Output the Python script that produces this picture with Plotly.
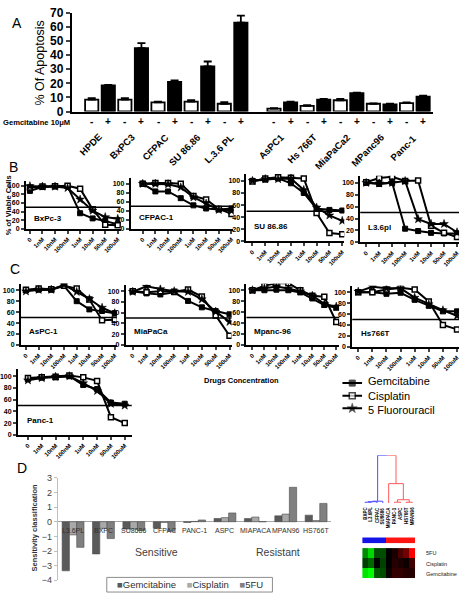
import plotly.graph_objects as go

W, H = 467, 601
FONT = "Liberation Sans, Arial, sans-serif"

# ---------------- Panel A data ----------------
cell_lines_a = ["HPDE", "BxPC3", "CFPAC", "SU 86.86", "L.3.6 PL",
                "AsPC1", "Hs 766T", "MiaPaCa2", "MPanc96", "Panc-1"]
apop_minus = [8.5, 8.5, 6.5, 7.0, 5.5, 2.0, 4.0, 8.0, 5.5, 6.0]
apop_plus = [18.5, 45.0, 21.0, 32.0, 63.0, 6.5, 8.5, 13.0, 5.0, 10.5]
err_minus = [1.0, 1.0, 0.5, 1.0, 1.2, 0.3, 0.5, 1.0, 0.3, 0.5]
err_plus = [0.3, 3.5, 1.0, 3.5, 5.0, 0.5, 0.5, 0.3, 0.5, 0.8]
apop_ticks = [0, 10, 20, 30, 40, 50, 60, 70]

# ---------------- Panels B / C data ----------------
conc_labels = ["0", "1nM", "10nM", "100nM", "1uM", "10uM", "50uM", "100uM"]
viab_ticks = [0, 20, 40, 60, 80, 100]
panel_names = ["BxPc-3", "CFPAC-1", "SU 86.86", "L3.6pl",
               "AsPC-1", "MiaPaCa", "Mpanc-96", "Hs766T", "Panc-1"]
gem_vals = [
    [88, 97, 99, 99, 36, 24, 18, 10],
    [100, 83, 83, 68, 52, 45, 43, 45],
    [100, 102, 104, 96, 80, 54, 52, 51],
    [100, 98, 100, 23, 19, 16, 15, 15],
    [100, 101, 101, 108, 80, 65, 62, 58],
    [100, 96, 94, 98, 82, 70, 63, 57],
    [100, 100, 101, 100, 96, 85, 73, 68],
    [100, 100, 97, 99, 86, 75, 65, 65],
    [95, 98, 98, 100, 85, 78, 55, 53],
]
cis_vals = [
    [96, 98, 99, 100, 93, 45, 9, 8],
    [100, 102, 102, 100, 73, 65, 44, 33],
    [99, 104, 106, 105, 104, 47, 14, 12],
    [101, 108, 110, 103, 104, 28, 16, 9],
    [101, 103, 102, 108, 103, 83, 45, 46],
    [100, 98, 100, 99, 103, 90, 55, 17],
    [100, 108, 113, 113, 100, 90, 88, 42],
    [100, 100, 105, 108, 105, 83, 40, 32],
    [97, 98, 99, 101, 98, 92, 30, 20],
]
fu_vals = [
    [99, 98, 98, 95, 68, 42, 27, 23],
    [100, 100, 99, 92, 70, 56, 42, 40],
    [100, 103, 103, 104, 85, 56, 43, 34],
    [100, 99, 100, 103, 39, 31, 31, 17],
    [98, 101, 101, 110, 97, 84, 68, 58],
    [99, 109, 104, 100, 99, 85, 62, 43],
    [100, 104, 107, 103, 98, 90, 75, 70],
    [101, 110, 107, 107, 90, 78, 67, 57],
    [93, 97, 99, 100, 88, 75, 53, 50],
]
ic_line = 50
drug_names = ["Gemcitabine", "Cisplatin", "5 Fluorouracil"]

# ---------------- Panel D data ----------------
d_categories = ["L3.6PL", "BXPC", "SU8686", "CFPAC", "PANC-1", "ASPC",
                "MIAPACA", "MPAN96", "HS766T"]
d_gem = [-3.35, -2.2, -0.5, -0.45, -0.05, 0.22, 0.22, 0.4, 0.45]
d_cis = [-0.9, -0.45, -0.5, -0.05, 0.02, 0.28, 0.32, 0.52, 0.08]
d_fu = [-1.75, -1.15, -0.6, -0.65, 0.12, 0.6, 0.0, 2.35, 1.25]
d_series = ["Gemcitabine", "Cisplatin", "5FU"]
d_ticks = [-4, -3, -2, -1, 0, 1, 2, 3]

# ---------------- Heatmap / dendrogram data ----------------
hm_cols = ["BXPC", "L3.6PL", "CFPAC", "SU8686", "MIAPACA", "PANC-1",
           "ASPC", "HS766T", "MPAN96"]
hm_rows = ["5FU", "Cisplatin", "Gemcitabine"]
hm_vals = [
    [-0.55, -0.85, -0.3, -0.3, 0.0, 0.1, 0.3, 0.45, 1.0],
    [-0.25, -0.4, 0.0, -0.25, 0.0, 0.15, 0.1, 0.05, 0.25],
    [-0.9, -1.0, -0.35, -0.3, 0.05, 0.2, 0.2, 0.15, 0.15],
]
hm_cluster = [0, 0, 0, 0, 1, 1, 1, 1, 1]
# linkage: (child a, child b, height); new ids start at len(hm_cols)
linkage = [(0, 1, 1.0), (9, 2, 1.5), (10, 3, 2.0), (5, 6, 1.0), (7, 8, 1.0),
           (12, 13, 3.5), (4, 14, 20.0), (11, 15, 49.0)]


def dx(a, b):
    return [a / W, b / W]


def dy(top, bottom):
    return [1 - bottom / H, 1 - top / H]


def px(x):
    return x / W


def py(y):
    return 1 - y / H


annotations = []
shapes = []


def ann(text, x, y, xref="paper", yref="paper", size=10, color="black",
        xanchor="center", yanchor="middle", angle=0):
    annotations.append(dict(text=text, x=x, y=y, xref=xref, yref=yref,
                            xanchor=xanchor, yanchor=yanchor, textangle=angle,
                            showarrow=False, font=dict(size=size, color=color,
                                                       family=FONT)))


fig = go.Figure()
layout = dict(width=W, height=H, margin=dict(l=0, r=0, t=0, b=0),
              autosize=False, paper_bgcolor="white",
              plot_bgcolor="rgba(0,0,0,0)",
              font=dict(family=FONT, color="black"), barmode="group",
              bargap=0.28, bargroupgap=0.0, showlegend=False)

# ================= Panel A =================
gap_pos = [i + (0.5 if i >= 5 else 0.0) for i in range(len(cell_lines_a))]
xs, ys, cols, ea = [], [], [], []
for i, p in enumerate(gap_pos):
    xs += [p - 0.25, p + 0.25]
    ys += [apop_minus[i], apop_plus[i]]
    cols += ["white", "black"]
    ea += [err_minus[i], err_plus[i]]
fig.add_trace(go.Bar(x=xs, y=ys, width=0.4, xaxis="x", yaxis="y",
                     marker=dict(color=cols, line=dict(color="black", width=1.8)),
                     error_y=dict(type="data", symmetric=False, array=ea,
                                  arrayminus=[0] * len(ea), color="black",
                                  thickness=1.8, width=4)))
layout["xaxis"] = dict(domain=dx(72, 434), anchor="y", range=[-0.85, 10.05],
                       showticklabels=False, ticks="", showline=True,
                       linecolor="black", linewidth=2, showgrid=False, zeroline=False)
layout["yaxis"] = dict(domain=dy(6, 107), anchor="x", range=[0, 70],
                       tickmode="array", tickvals=apop_ticks,
                       ticktext=["<b>%d</b>" % v for v in apop_ticks],
                       ticks="outside", ticklen=4,
                       tickwidth=2, showline=True, linecolor="black", linewidth=2,
                       showgrid=False, zeroline=False, showticklabels=True,
                       tickfont=dict(size=12, family=FONT, color="black"))
ann("% Of Apoptosis", px(40), py(57), size=12.5, angle=-90)
ann("<b>Gemcitabine 10μM</b>", px(1), py(118.5), size=7.6, xanchor="left")
for i, p in enumerate(gap_pos):
    ann("<b>-</b>", p - 0.25, py(117), xref="x", size=10)
    ann("<b>+</b>", p + 0.25, py(117), xref="x", size=10)
    ann("<b>%s</b>" % cell_lines_a[i], p + 0.2, py(125), xref="x", size=9.5,
        xanchor="right", yanchor="top", angle=-45)
ann("A", px(17), py(16), size=14)

# ================= Panels B / C =================
# (axis_x, first point x, last point x, axis end x, y of 100, y of 0)
line_geo = [
    (26, 30, 118, 121, 183, 227),
    (131, 143, 232, 234, 181, 227),
    (247, 253, 343, 345, 178, 240),
    (361, 367, 458, 460, 180, 241),
    (21, 26, 115, 117, 290, 346),
    (126, 133, 230, 232, 291, 346),
    (247, 253, 337, 340, 290, 346),
    (353, 359, 458, 460, 292, 348),
    (18, 28, 125, 132, 378, 438),
]
ymax = 112
markers = [dict(symbol="square", color="black", size=5, line=dict(color="black", width=1)),
           dict(symbol="square", color="white", size=5, line=dict(color="black", width=1.5)),
           dict(symbol="star", color="black", size=6.5, line=dict(color="black", width=0.5))]
for k, (ax, p0, p7, xe, y100, y0) in enumerate(line_geo):
    n = k + 2
    unit = (p7 - p0) / 7.0
    xr = [(ax - p0) / unit, 7 + (xe - p7) / unit]
    top = y0 - ymax * (y0 - y100) / 100.0
    layout["xaxis%d" % n] = dict(domain=dx(ax, xe), anchor="y%d" % n, range=xr,
                                 tickvals=list(range(8)), ticktext=conc_labels,
                                 tickangle=-45, ticks="outside", ticklen=3,
                                 tickwidth=1.5, showline=True, linecolor="black",
                                 linewidth=2, showgrid=False, zeroline=False,
                                 tickfont=dict(size=6, weight="bold"))
    layout["yaxis%d" % n] = dict(domain=dy(top, y0), anchor="x%d" % n,
                                 range=[0, ymax], tickvals=viab_ticks,
                                 ticks="outside", ticklen=3, tickwidth=1.5,
                                 showline=True, linecolor="black", linewidth=2,
                                 showgrid=False, zeroline=False,
                                 tickfont=dict(size=7, weight="bold"))
    for d, vals in enumerate((gem_vals, cis_vals, fu_vals)):
        fig.add_trace(go.Scatter(x=list(range(8)), y=vals[k], mode="lines+markers",
                                 xaxis="x%d" % n, yaxis="y%d" % n,
                                 line=dict(color="black", width=2),
                                 marker=markers[d], name=drug_names[d]))
    shapes.append(dict(type="line", xref="x%d domain" % n, yref="y%d" % n,
                       x0=0, x1=1, y0=ic_line, y1=ic_line,
                       line=dict(color="black", width=1.5)))
    ann("<b>%s</b>" % panel_names[k], 0.06, 0.22, xref="x%d domain" % n,
        yref="y%d domain" % n, size=8, xanchor="left")

ann("<b>% of Viable Cells</b>", px(8), py(203), size=7.5, angle=-90)
ann("<b>Drugs Concentration</b>", px(242), py(382), size=7.5)
ann("B", px(14), py(164), size=14)
ann("C", px(15), py(268), size=14)

# manual legend for the dose-response lines
layout["xaxis15"] = dict(domain=dx(343, 363), anchor="y15", range=[0, 2], visible=False)
layout["yaxis15"] = dict(domain=dy(376, 420), anchor="x15", range=[2.7, -0.7],
                         visible=False)
for d in range(3):
    fig.add_trace(go.Scatter(x=[0, 1, 2], y=[d, d, d], mode="lines+markers",
                             xaxis="x15", yaxis="y15",
                             line=dict(color="black", width=2),
                             marker=dict(markers[d], size=[0, markers[d]["size"] + 1, 0])))
    ann(drug_names[d], px(367), py(383 + 15 * d), size=11, xanchor="left")

# ================= Panel D =================
d_colors = ["#5a5a5a", "#a9a9a9", "#808080"]
for s, vals in enumerate((d_gem, d_cis, d_fu)):
    fig.add_trace(go.Bar(x=d_categories, y=vals, xaxis="x11", yaxis="y11",
                         name=d_series[s],
                         marker=dict(color=d_colors[s],
                                     line=dict(color="#4d4d4d", width=0.6))))
layout["xaxis11"] = dict(domain=dx(58, 332), anchor="y11", showticklabels=False,
                         ticks="", showline=False, showgrid=False, zeroline=False)
layout["yaxis11"] = dict(domain=dy(482, 587), anchor="x11", range=[-4, 3],
                         tickvals=d_ticks, ticks="outside", ticklen=3,
                         tickcolor="#bfbfbf", showline=True, linecolor="#bfbfbf",
                         linewidth=1, showgrid=False, zeroline=True,
                         zerolinecolor="#a6a6a6", zerolinewidth=1,
                         tickfont=dict(size=9, color="#404040"))
for c in d_categories:
    ann(c, c, -0.58, xref="x11", yref="y11", size=7, color="#303030")
ann("<b>Sensitivity classification</b>", px(35), py(533), size=7.5,
    color="#303030", angle=-90)
ann("Sensitive", px(157), py(558), size=10.5, color="#404040")
ann("Resistant", px(279), py(558), size=10.5, color="#404040")
ann("D", px(22), py(472), size=14)
legend_txt = "&nbsp;&nbsp;&nbsp;&nbsp;".join(
    '<span style="color:%s">■</span>%s' % (d_colors[s], d_series[s])
    for s in range(3))
shapes.append(dict(type="rect", xref="paper", yref="paper", x0=px(107), x1=px(273),
                   y0=py(599), y1=py(584), line=dict(color="#8c8c8c", width=1)))
ann(legend_txt, px(190), py(591.5), size=9.5, color="#303030")

# ================= Dendrogram =================
nleaf = len(hm_cols)
pos = {i: float(i) for i in range(nleaf)}
hgt = {i: 0.0 for i in range(nleaf)}
clus = {i: hm_cluster[i] for i in range(nleaf)}
seg = {0: ([], []), 1: ([], [])}
for m, (a, b, h) in enumerate(linkage):
    nid = nleaf + m
    mid = (pos[a] + pos[b]) / 2
    if clus[a] == clus[b]:
        sx, sy = seg[clus[a]]
        sx += [pos[a], pos[a], pos[b], pos[b], None]
        sy += [hgt[a], h, h, hgt[b], None]
        clus[nid] = clus[a]
    else:
        for child in (a, b):
            sx, sy = seg[clus[child]]
            sx += [pos[child], pos[child], mid, None]
            sy += [hgt[child], h, h, None]
        clus[nid] = -1
    pos[nid] = mid
    hgt[nid] = h
dcolors = {0: "#4d4dff", 1: "#ff5a5a"}
for c in (0, 1):
    fig.add_trace(go.Scatter(x=seg[c][0], y=seg[c][1], mode="lines",
                             xaxis="x12", yaxis="y12",
                             line=dict(color=dcolors[c], width=1)))
layout["xaxis12"] = dict(domain=dx(363, 416), anchor="y12", range=[-0.5, nleaf - 0.5],
                         visible=False)
layout["yaxis12"] = dict(domain=dy(459, 508), anchor="x12", range=[0, 49],
                         visible=False)
for i, c in enumerate(hm_cols):
    ann("<b>%s</b>" % c, i, py(510), xref="x12", size=4.5, yanchor="top", angle=-90)

# ================= Cluster bar & heatmap =================
fig.add_trace(go.Heatmap(z=[hm_cluster], x=list(range(nleaf)), xaxis="x13",
                         yaxis="y13", colorscale=[[0, "#1414e6"], [1, "#ff1414"]],
                         showscale=False, zmin=0, zmax=1))
layout["xaxis13"] = dict(domain=dx(363, 416), anchor="y13", range=[-0.5, nleaf - 0.5],
                         visible=False)
layout["yaxis13"] = dict(domain=dy(543, 549), anchor="x13", visible=False)
fig.add_trace(go.Heatmap(z=hm_vals[::-1], x=list(range(nleaf)), y=hm_rows[::-1],
                         xaxis="x14", yaxis="y14",
                         colorscale=[[0, "#00ff00"], [0.5, "#000000"], [1, "#ff0000"]],
                         zmin=-1, zmax=1, showscale=False))
layout["xaxis14"] = dict(domain=dx(363, 416), anchor="y14", range=[-0.5, nleaf - 0.5],
                         visible=False)
layout["yaxis14"] = dict(domain=dy(554, 585), anchor="x14", visible=False)
for r, name in enumerate(hm_rows):
    ann(name, px(425), py(559 + 11 * r), size=5.5, color="#202020", xanchor="left")

layout["annotations"] = annotations
layout["shapes"] = shapes
fig.update_layout(**layout)
fig.write_html("out.html", config={"displayModeBar": False},
               post_script="document.body.style.margin='0';document.body.style.padding='0';")
